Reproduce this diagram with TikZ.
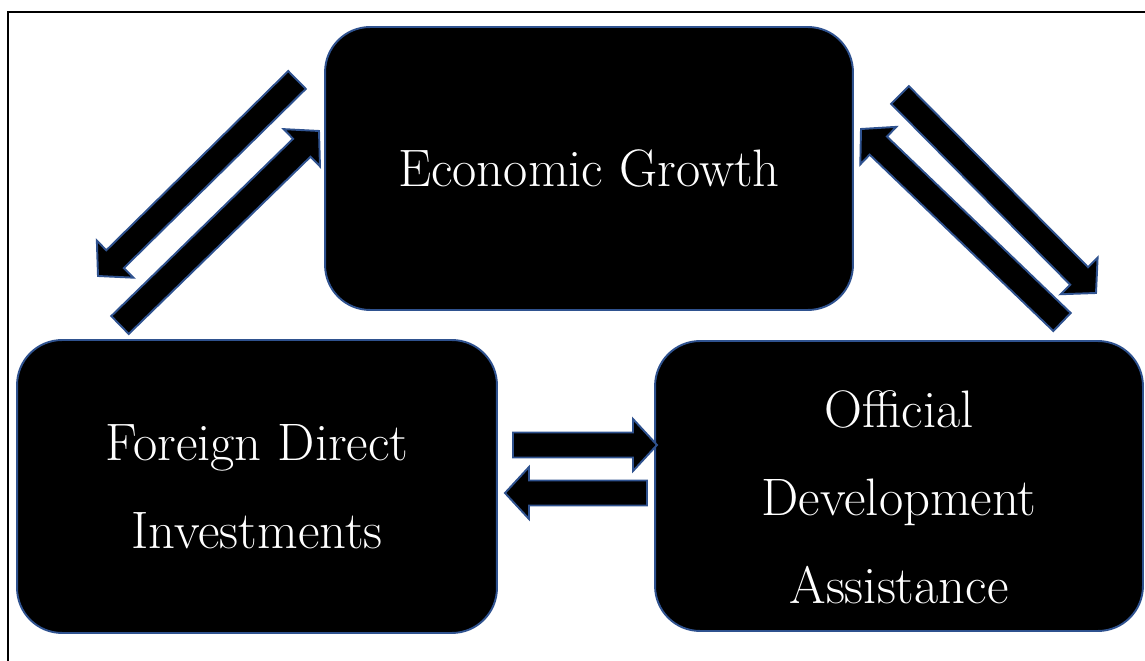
\documentclass[tikz,border=0pt]{standalone}
\usepackage{tikz}
\usetikzlibrary{positioning,calc}

\definecolor{edgeblue}{RGB}{47,82,143}

% half shaft width, half head width, head length of the fat arrows
\newcommand{\shafthw}{0.25cm}
\newcommand{\headhw}{0.52cm}
\newcommand{\headlen}{0.48cm}

% fat arrow from coordinate #1 (tail) to coordinate #2 (tip)
\newcommand{\fatarrow}[2]{%
  \coordinate (neck) at ($(#2)!\headlen!(#1)$);
  \draw[fatarr] ($(#1)!\shafthw!90:(#2)$) -- ($(neck)!\shafthw!90:(#2)$)
    -- ($(neck)!\headhw!90:(#2)$) -- (#2) -- ($(neck)!\headhw!-90:(#2)$)
    -- ($(neck)!\shafthw!-90:(#2)$) -- ($(#1)!\shafthw!-90:(#2)$) -- cycle;}

\begin{document}
\begin{tikzpicture}[x=0.02cm,y=-0.02cm,
    boxtext/.style={text=white,align=center,font=\fontsize{30}{50}\selectfont},
    box/.style={boxtext,draw=edgeblue,fill=black,line width=1.1pt,rounded corners=0.9cm},
    fatarr/.style={draw=edgeblue,fill=black,line width=1.1pt,line join=miter}]

    \useasboundingbox (0,0) rectangle (1145,661);
    \draw[line width=0.9pt] (8,12) rectangle (1160,680);

    % the three blocks
    \node[box,minimum width=10.56cm,minimum height=5.66cm] (growth) at (589,168.5) {Economic Growth};
    \node[box,minimum width=9.6cm,minimum height=5.86cm] (fdi) at (257,486.5) {Foreign Direct\\Investments};
    \node[box,minimum width=9.76cm,minimum height=5.8cm] (oda) at (899,486) {};
    \node[boxtext] (oda text) at (899,497) {Official\\Development\\Assistance};

    % ends of the arrows
    \coordinate (gf tail) at (297,80);
    \coordinate (gf tip) at (98,276);
    \coordinate (fg tail) at (120,325);
    \coordinate (fg tip) at (319,131);
    \coordinate (go tail) at (900,95);
    \coordinate (go tip) at (1096,293);
    \coordinate (og tail) at (1062,322);
    \coordinate (og tip) at (861,129);
    \coordinate (fo tail) at (513,445);
    \coordinate (fo tip) at (657,445);
    \coordinate (of tail) at (647,493);
    \coordinate (of tip) at (505,493);

    \fatarrow{gf tail}{gf tip}
    \fatarrow{fg tail}{fg tip}
    \fatarrow{go tail}{go tip}
    \fatarrow{og tail}{og tip}
    \fatarrow{fo tail}{fo tip}
    \fatarrow{of tail}{of tip}

\end{tikzpicture}
\end{document}
